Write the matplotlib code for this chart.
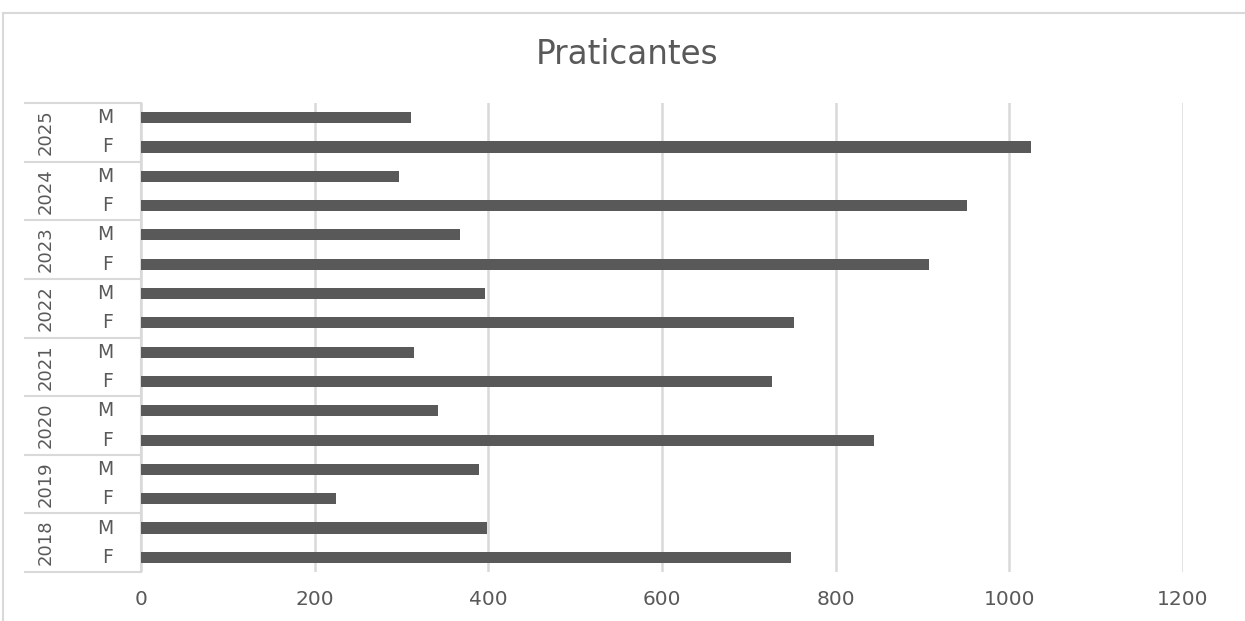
import matplotlib
matplotlib.use("Agg")
import matplotlib.pyplot as plt
import matplotlib.transforms as mtransforms
from matplotlib.lines import Line2D

plt.rcParams['font.family'] = ['DejaVu Sans']

years = ["2025", "2024", "2023", "2022", "2021", "2020", "2019", "2018"]
sexes = ["M", "F"]
values_M = [311, 297, 367, 396, 314, 342, 389, 398]
values_F = [1025, 951, 907, 752, 727, 844, 225, 748]
xticks = [0, 200, 400, 600, 800, 1000, 1200]
title = "Praticantes"

W, H = 1245, 621
fig = plt.figure(figsize=(W / 100, H / 100), dpi=100)

# outer chart border
fig.add_artist(Line2D([3 / W, 3 / W], [0, 1 - 13 / H], color="#d9d9d9", lw=1.5))
fig.add_artist(Line2D([3 / W, 1], [1 - 13 / H, 1 - 13 / H], color="#d9d9d9", lw=1.5))

left, right = 141 / W, 1183 / W
top, bottom = 1 - 103 / H, 1 - 572 / H
ax = fig.add_axes([left, bottom, right - left, top - bottom])

labels_sex = []
vals = []
for i, y in enumerate(years):
    for s in sexes:
        labels_sex.append(s)
        vals.append(values_M[i] if s == "M" else values_F[i])

pos = list(range(len(vals)))
ax.barh(pos, vals, height=0.38, color="#595959", zorder=3)
ax.set_ylim(len(vals) - 0.5, -0.5)
ax.set_xlim(0, 1200)
ax.set_xticks(xticks)
ax.set_xticklabels([str(t) for t in xticks])
ax.tick_params(axis="x", length=0, pad=13, labelsize=14.5, labelcolor="#595959")
ax.set_yticks([])
ax.grid(axis="x", color="#d9d9d9", lw=1.8, zorder=0)
for sp in ["top", "right", "bottom"]:
    ax.spines[sp].set_visible(False)
ax.spines["left"].set_color("#d9d9d9")
ax.spines["left"].set_linewidth(1.5)

trans = mtransforms.blended_transform_factory(ax.transAxes, ax.transData)
axw = right - left
x_sep = (25 / W - left) / axw
x_sex = (113 / W - left) / axw
x_year = (46 / W - left) / axw

for k, s in enumerate(labels_sex):
    ax.text(x_sex, k, s, transform=trans, ha="right", va="center",
            fontsize=13.5, color="#595959")
for i, y in enumerate(years):
    ax.text(x_year, 2 * i + 0.5, y, transform=trans, ha="center", va="center",
            rotation=90, fontsize=13, color="#595959")
for b in range(len(years) + 1):
    yb = 2 * b - 0.5
    ax.plot([x_sep, 0], [yb, yb], transform=trans, color="#d9d9d9", lw=1.5,
            clip_on=False)

fig.text(627 / W, 1 - 54 / H, title, ha="center", va="center",
         fontsize=23.5, color="#595959")

fig.savefig("out.png", dpi=100)
